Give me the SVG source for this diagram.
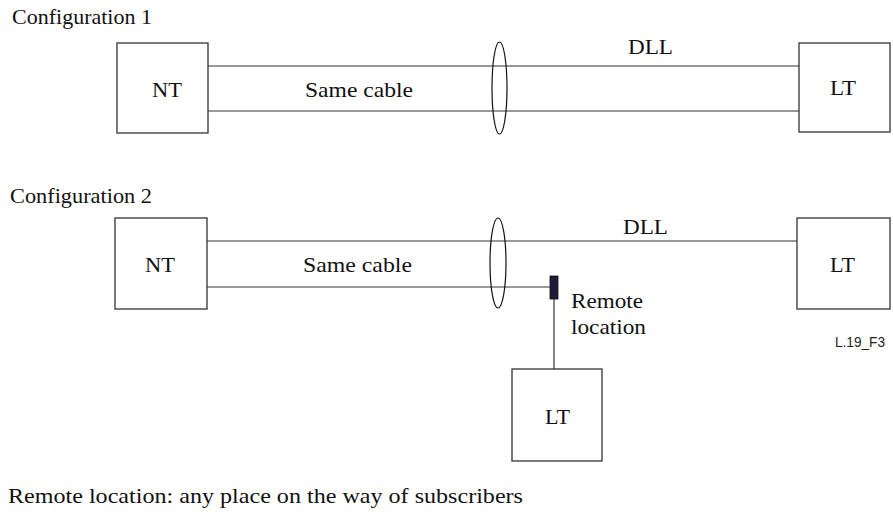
<svg xmlns="http://www.w3.org/2000/svg" width="893" height="515" viewBox="0 0 893 515">
<style>
.box{fill:#fff;stroke:#333;stroke-width:1.3}
.ln{stroke:#333;stroke-width:1.2;fill:none}
.el{stroke:#111;stroke-width:1.2;fill:none}
.t{font-family:"Liberation Serif","Times New Roman",serif;font-size:22px;fill:#111}
.s{font-family:"Liberation Sans",Arial,sans-serif;font-size:14px;fill:#222}
</style>
<rect width="893" height="515" fill="#fff"/>
<text class="t" x="12" y="24" textLength="140" lengthAdjust="spacingAndGlyphs">Configuration 1</text>
<text class="t" x="10" y="203" textLength="142" lengthAdjust="spacingAndGlyphs">Configuration 2</text>
<g id="connectors">
<line class="ln" x1="208" y1="66" x2="799" y2="66"/>
<line class="ln" x1="208" y1="111" x2="799" y2="111"/>
<line class="ln" x1="207" y1="241" x2="797" y2="241"/>
<line class="ln" x1="207" y1="287" x2="550" y2="287"/>
<line class="ln" x1="554" y1="299" x2="554" y2="369"/>
<ellipse class="el" cx="499.5" cy="88" rx="7.5" ry="46"/>
<ellipse class="el" cx="498" cy="263" rx="8" ry="45"/>
<text class="t" x="305" y="97" textLength="108" lengthAdjust="spacingAndGlyphs">Same cable</text>
<text class="t" x="628" y="54" textLength="45" lengthAdjust="spacingAndGlyphs">DLL</text>
<text class="t" x="303" y="272" textLength="109" lengthAdjust="spacingAndGlyphs">Same cable</text>
<text class="t" x="623" y="234" textLength="45" lengthAdjust="spacingAndGlyphs">DLL</text>
</g>
<g id="nt1"><rect class="box" x="117" y="43" width="91" height="90"/><text class="t" x="152" y="97" textLength="30" lengthAdjust="spacingAndGlyphs">NT</text></g>
<g id="lt1"><rect class="box" x="799" y="43" width="91" height="89"/><text class="t" x="830" y="95" textLength="26" lengthAdjust="spacingAndGlyphs">LT</text></g>
<g id="nt2"><rect class="box" x="115" y="218" width="92" height="91"/><text class="t" x="145" y="272" textLength="30" lengthAdjust="spacingAndGlyphs">NT</text></g>
<g id="lt2"><rect class="box" x="797" y="218" width="93" height="91"/><text class="t" x="830" y="272" textLength="25" lengthAdjust="spacingAndGlyphs">LT</text></g>
<g id="remote"><rect x="550" y="276" width="8" height="23" fill="#221a38" stroke="#111" stroke-width="0.8"/><text class="t" x="571" y="308" textLength="72" lengthAdjust="spacingAndGlyphs">Remote</text><text class="t" x="571" y="334" textLength="75" lengthAdjust="spacingAndGlyphs">location</text></g>
<g id="lt3"><rect class="box" x="512" y="369" width="90" height="92"/><text class="t" x="545" y="424" textLength="25" lengthAdjust="spacingAndGlyphs">LT</text></g>
<text class="s" x="835" y="347" textLength="50" lengthAdjust="spacingAndGlyphs">L.19_F3</text>
<text class="t" x="8" y="503" textLength="515" lengthAdjust="spacingAndGlyphs">Remote location: any place on the way of subscribers</text>
</svg>
